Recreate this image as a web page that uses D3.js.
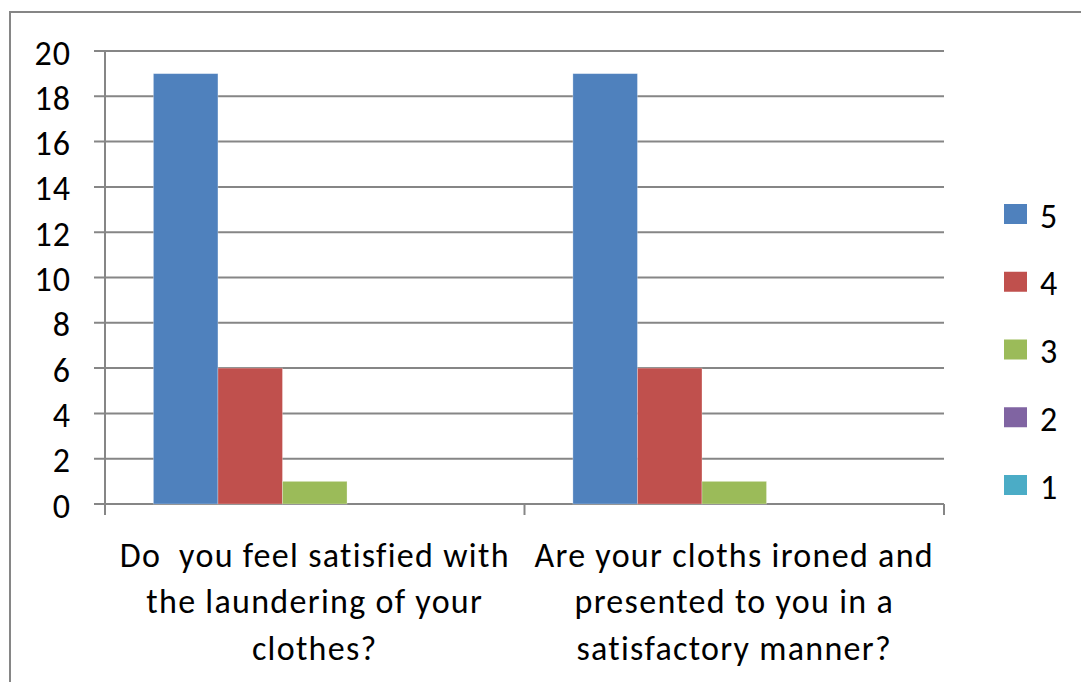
<!DOCTYPE html>
<html>
<head>
<meta charset="utf-8">
<script src="https://cdn.jsdelivr.net/npm/d3@7"></script>
<style>
  html, body { margin: 0; padding: 0; background: #fff; }
  svg { display: block; }
  text { font-family: Carlito, Lato, "Liberation Sans", sans-serif; fill: #000; }
</style>
</head>
<body>
<svg id="chart" width="1081" height="682"></svg>
<script>
const categories = [
  "Do  you feel satisfied with\nthe laundering of your\nclothes?",
  "Are your cloths ironed and\npresented to you in a\nsatisfactory manner?"
];
const seriesNames = ["5", "4", "3", "2", "1"];
const values5 = [19, 19];
const values4 = [6, 6];
const values3 = [1, 1];
const values2 = [0, 0];
const values1 = [0, 0];
const yTicks = [0, 2, 4, 6, 8, 10, 12, 14, 16, 18, 20];
const colors = ["#4F81BD", "#C0504D", "#9BBB59", "#8064A2", "#4BACC6"];

const seriesValues = [values5, values4, values3, values2, values1];
const series = seriesNames.map((name, i) => ({ name, values: seriesValues[i], color: colors[i] }));

const svg = d3.select("#chart");
const plot = { left: 105, right: 944, top: 51, bottom: 504 };
const axisColor = "#868686";

// outer frame (partially cut off at right and bottom)
svg.append("path")
  .attr("d", "M10,700 L10,12 L1095,12")
  .attr("fill", "none").attr("stroke", axisColor).attr("stroke-width", 2);

const y = d3.scaleLinear().domain([0, 20]).range([plot.bottom, plot.top]);
const x0 = d3.scaleBand().domain(categories).range([plot.left, plot.right]).padding(0);
const x1 = d3.scaleBand().domain(seriesNames).range([0, x0.bandwidth()]).paddingInner(0).paddingOuter(0.75);

// gridlines
svg.append("g").selectAll("line").data(yTicks).join("line")
  .attr("x1", plot.left - 11).attr("x2", plot.right)
  .attr("y1", d => y(d)).attr("y2", d => y(d))
  .attr("stroke", axisColor).attr("stroke-width", 2);

// y axis line
svg.append("line")
  .attr("x1", plot.left).attr("x2", plot.left)
  .attr("y1", plot.top).attr("y2", plot.bottom + 11)
  .attr("stroke", axisColor).attr("stroke-width", 2);

// x axis ticks at category boundaries
const boundaries = categories.map(c => x0(c)).concat([x0(categories[categories.length - 1]) + x0.bandwidth()]);
svg.append("g").selectAll("line").data(boundaries.slice(1)).join("line")
  .attr("x1", d => d).attr("x2", d => d)
  .attr("y1", plot.bottom).attr("y2", plot.bottom + 11)
  .attr("stroke", axisColor).attr("stroke-width", 2);

// y tick labels
svg.append("g").selectAll("text").data(yTicks).join("text")
  .attr("x", 71).attr("y", d => y(d) + 2)
  .attr("text-anchor", "end").attr("dominant-baseline", "central")
  .attr("font-size", 34).attr("letter-spacing", 1)
  .text(d => d);

// bars
const groups = svg.append("g").selectAll("g").data(categories).join("g")
  .attr("transform", c => `translate(${x0(c)},0)`);
groups.selectAll("rect")
  .data((c, ci) => series.map(s => ({ name: s.name, value: s.values[ci], color: s.color })))
  .join("rect")
  .attr("x", d => x1(d.name))
  .attr("width", x1.bandwidth())
  .attr("y", d => y(d.value))
  .attr("height", d => y(0) - y(d.value))
  .attr("fill", d => d.color)
  .attr("stroke", "#ffffff").attr("stroke-opacity", 0.35).attr("stroke-width", 0.8);

// x category labels
const lineBaselines = [567, 613, 660];
svg.append("g").selectAll("text").data(categories).join("text")
  .attr("text-anchor", "middle")
  .attr("font-size", 34).attr("letter-spacing", 1.3)
  .each(function (c) {
    const t = d3.select(this);
    c.split("\n").forEach((line, i) => {
      t.append("tspan")
        .attr("x", x0(c) + x0.bandwidth() / 2)
        .attr("y", lineBaselines[i])
        .attr("xml:space", "preserve")
        .style("white-space", "pre")
        .text(line);
    });
  });

// legend
const legendY = d3.scalePoint().domain(seriesNames).range([214, 485]);
const legend = svg.append("g").selectAll("g").data(series).join("g")
  .attr("transform", d => `translate(1004,${legendY(d.name)})`);
legend.append("rect")
  .attr("x", 0).attr("y", -10).attr("width", 23).attr("height", 20)
  .attr("fill", d => d.color);
legend.append("text")
  .attr("x", 36).attr("y", 2)
  .attr("dominant-baseline", "central")
  .attr("font-size", 34)
  .text(d => d.name);
</script>
</body>
</html>
